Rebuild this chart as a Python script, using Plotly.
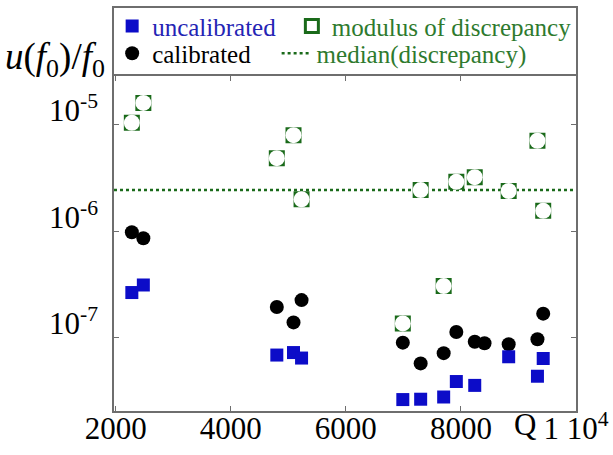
import plotly.graph_objects as go

# ---- data ----
Q = [2280, 2480, 4800, 5090, 5230, 6990, 7300, 7700, 7920, 8240, 8410, 8830, 9330, 9430]
uncalibrated = [2.65e-7, 3.12e-7, 6.86e-8, 7.24e-8, 6.43e-8, 2.62e-8, 2.64e-8, 2.77e-8,
                3.87e-8, 3.56e-8, None, 6.61e-8, 4.34e-8, 6.37e-8]
calibrated = [9.75e-7, 8.57e-7, 1.94e-7, 1.39e-7, 2.25e-7, 8.97e-8, 5.73e-8, 7.15e-8,
              1.13e-7, 9.16e-8, 8.85e-8, 8.66e-8, 9.64e-8, 1.68e-7]
discrepancy = [1.04e-5, 1.60e-5, 4.84e-6, 7.96e-6, 1.99e-6, 1.36e-7, 2.43e-6, 3.05e-7,
               2.90e-6, 3.21e-6, None, 2.38e-6, 7.06e-6, 1.55e-6]
median_discrepancy = 2.43e-6

x_tickvals = [2000, 4000, 6000, 8000, 10000]
x_ticktext = ["2000", "4000", "6000", "8000", "1 10<sup>4</sup>"]
y_tickvals = [1e-7, 1e-6, 1e-5]
y_ticktext = ["10<sup>-7</sup>", "10<sup>-6</sup>", "10<sup>-5</sup>"]

BLUE = "#0c0cc8"
GREEN = "#1a6a1a"
GREEN_TXT = "#2e7a2e"
SERIF = "Liberation Serif"
AXC = "#6e6e6e"
X_RANGE = [1970, 10000]
SEP = 0.8333  # paper height of the legend/plot separator

fig = go.Figure()

fig.add_trace(go.Scatter(
    x=Q, y=calibrated, mode="markers", name="calibrated", legend="legend3",
    marker=dict(symbol="circle", size=14, color="black", line=dict(width=0)),
))
fig.add_trace(go.Scatter(
    x=Q, y=uncalibrated, mode="markers", legend="legend",
    name='<span style="color:#2424b4">uncalibrated</span>',
    marker=dict(symbol="square", size=13, color=BLUE, line=dict(width=0)),
))
fig.add_trace(go.Scatter(
    x=Q, y=discrepancy, mode="markers", legend="legend2",
    name='<span style="color:%s">modulus of discrepancy</span>' % GREEN_TXT,
    marker=dict(symbol="square", size=13, color="white", line=dict(width=3, color=GREEN)),
))
fig.add_trace(go.Scatter(
    x=Q, y=discrepancy, mode="markers", showlegend=False, hoverinfo="skip",
    marker=dict(symbol="circle", size=16, color="white", line=dict(width=0)),
))
fig.add_trace(go.Scatter(
    x=[None], y=[None], mode="lines", legend="legend4",
    name='<span style="color:%s">median(discrepancy)</span>' % GREEN_TXT,
    line=dict(color=GREEN, width=2.5, dash="dot"),
))
# empty trace that carries the separator axis (top ticks under the legend)
fig.add_trace(go.Scatter(x=[None], y=[None], xaxis="x2", showlegend=False, hoverinfo="skip"))

# median line across the whole axis
fig.add_shape(type="line", xref="paper", x0=0, x1=1, yref="y",
              y0=median_discrepancy, y1=median_discrepancy, layer="below",
              line=dict(color=GREEN, width=2.5, dash="dot"))

fig.add_annotation(text="<i>u</i>(<i>f</i><sub>0</sub>)/<i>f</i><sub>0</sub>",
                   xref="paper", yref="paper", x=-0.127, y=0.872,
                   xanchor="center", yanchor="middle", showarrow=False,
                   font=dict(family=SERIF, size=37, color="black"))
fig.add_annotation(text="Q", xref="paper", yref="paper", x=0.89, y=0,
                   xanchor="center", yanchor="top", yshift=6, showarrow=False,
                   font=dict(family=SERIF, size=31, color="black"))

legend_common = dict(orientation="v", yanchor="middle", xanchor="left",
                     bgcolor="rgba(0,0,0,0)", borderwidth=0,
                     font=dict(family=SERIF, size=25, color="black"))
ROW1, ROW2 = 0.955, 0.887
COL1, COL2 = -0.004, 0.385
COL2B = 0.352

fig.update_layout(
    width=613, height=455,
    margin=dict(l=114, r=37, t=3, b=44),
    paper_bgcolor="white", plot_bgcolor="white",
    font=dict(family=SERIF, size=24, color="black"),
    showlegend=True,
    legend=dict(x=COL1, y=ROW1, **legend_common),
    legend2=dict(x=COL2, y=ROW1, **legend_common),
    legend3=dict(x=COL1, y=ROW2, **legend_common),
    legend4=dict(x=COL2B, y=ROW2, **legend_common),
    xaxis=dict(range=X_RANGE, tickvals=x_tickvals, ticktext=x_ticktext, automargin=False,
               showgrid=False, zeroline=False, showline=True, linecolor=AXC, linewidth=1.5,
               mirror=True, ticks="inside", ticklen=5, tickcolor=AXC,
               ticklabelstandoff=-11,
               tickfont=dict(family=SERIF, size=31, color="black")),
    xaxis2=dict(range=X_RANGE, tickvals=x_tickvals, overlaying="x", side="top",
                anchor="free", position=SEP, automargin=False, showticklabels=False,
                showgrid=False, zeroline=False, showline=True, linecolor=AXC, linewidth=1.5,
                ticks="inside", ticklen=5, tickcolor=AXC),
    yaxis=dict(type="log", range=[-7.689, -3.905], tickvals=y_tickvals, ticktext=y_ticktext,
               automargin=False,
               showgrid=False, zeroline=False, showline=True, linecolor=AXC, linewidth=1.5,
               mirror="ticks", ticks="inside", ticklen=5, tickcolor=AXC,
               ticklabelstandoff=8, ticklabelshift=-14,
               tickfont=dict(family=SERIF, size=31, color="black")),
)

fig.write_html("out.html", config={"displayModeBar": False},
               post_script="document.body.style.margin='0';")
